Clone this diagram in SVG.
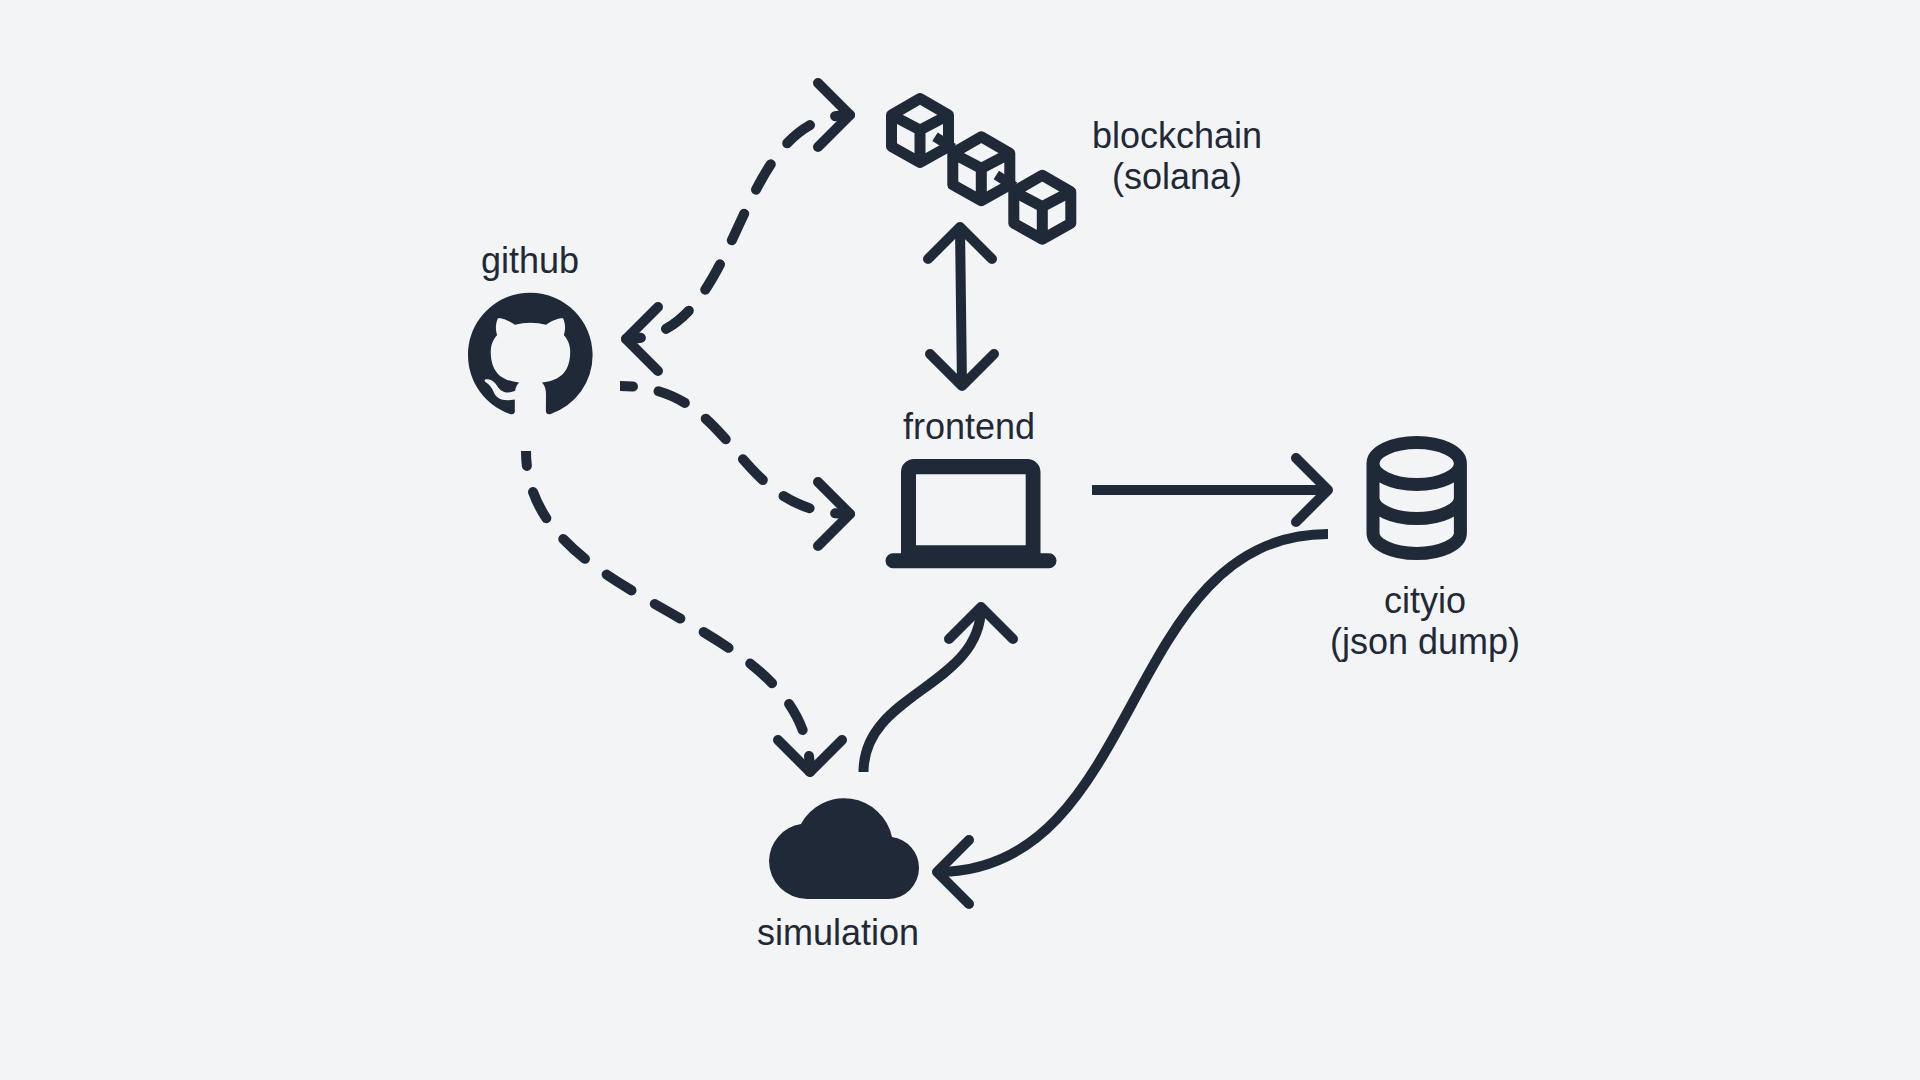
<svg xmlns="http://www.w3.org/2000/svg" width="1920" height="1080" viewBox="0 0 1920 1080">
<style>
text{font-family:"Liberation Sans",Arial,sans-serif;font-size:36px;fill:#1f2937;text-anchor:middle}
.c{fill:none;stroke:#1f2937;stroke-width:10;stroke-linecap:round;stroke-linejoin:round}
.b{fill:none;stroke:#1f2937;stroke-width:10}
.d{stroke-dasharray:29.500 27}
.i{fill:#1f2937}
.s{fill:none;stroke:#1f2937;stroke-width:11;stroke-linejoin:round}
</style>
<defs>
<g id="cube">
<path class="s" d="M920 98.500L948.500 115V146.500L920 162.500L891.500 146.500V115ZM891.500 115L920 130L948.500 115M920 130V162.500"/>
</g>
<clipPath id="clipFront"><rect x="620" y="370" width="260" height="200"/></clipPath>
<clipPath id="clipSim"><rect x="510" y="451" width="350" height="350"/></clipPath>
</defs>
<rect width="1920" height="1080" fill="#f3f4f6"/>
<g id="connectors">
<path class="c d" pathLength="339.500" stroke-dashoffset="14.500" d="M850 115C730 115 746 339 626 339"/>
<path class="c" d="M818 83L850 115L818 147M658 307L626 339L658 371"/>
<path class="c d" clip-path="url(#clipFront)" pathLength="281" stroke-dashoffset="16.500" d="M620 386C740 386 730 514 850 514"/>
<path class="c" d="M818 482L850 514L818 546"/>
<path class="c d" clip-path="url(#clipSim)" pathLength="453.500" stroke-dashoffset="14.500" d="M526 451C526 611 810 612 810 772"/>
<path class="c" d="M778 740L810 772L842 740"/>
<path class="b" d="M1092 490H1326"/>
<path class="c" d="M1296 458L1328 490L1296 522"/>
<path class="c" d="M960 227L962 386M928 259L960 227L992 259M930 354L962 386L994 354"/>
<path class="b" d="M1328 534C1120 534 1145 872 937 872"/>
<path class="c" d="M969 840L937 872L969 904"/>
<path class="b" d="M863.500 772C863.500 692 981 687 981 607"/>
<path class="c" d="M949 639L981 607L1013 639"/>
</g>
<g id="blockchain">
<use href="#cube"/>
<use href="#cube" x="61.300" y="38.300"/>
<use href="#cube" x="122.300" y="76.700"/>
<path class="b" d="M935 136.700L953.300 148.300M996.300 175L1014.600 186.600"/>
<text x="1177" y="148">blockchain</text>
<text x="1177" y="189">(solana)</text>
</g>
<g id="github">
<path class="i" fill-rule="evenodd" transform="translate(468 292.700) scale(7.790)" d="M8 0C3.58 0 0 3.58 0 8c0 3.54 2.29 6.53 5.47 7.59.4.07.55-.17.55-.38 0-.19-.01-.82-.01-1.49-2.01.37-2.53-.49-2.69-.94-.09-.23-.48-.94-.82-1.13-.28-.15-.68-.52-.01-.53.63-.01 1.08.58 1.23.82.72 1.21 1.87.87 2.33.66.07-.52.28-.87.51-1.07-1.78-.2-3.64-.89-3.64-3.95 0-.87.31-1.59.82-2.15-.08-.2-.36-1.02.08-2.12 0 0 .67-.21 2.2.82.64-.18 1.32-.27 2-.27.68 0 1.36.09 2 .27 1.53-1.04 2.2-.82 2.2-.82.44 1.1.16 1.92.08 2.12.51.56.82 1.27.82 2.15 0 3.07-1.87 3.75-3.65 3.95.29.25.54.73.54 1.48 0 1.07-.01 1.93-.01 2.2 0 .21.15.46.55.38A8.013 8.013 0 0016 8c0-4.42-3.58-8-8-8z"/>
<text x="530" y="273">github</text>
</g>
<g id="frontend">
<path class="i" fill-rule="evenodd" d="M914 459H1027A13 13 0 0 1 1040.500 472V553.300H1049A7.500 7.500 0 0 1 1049 568.300H893A7.500 7.500 0 0 1 893 553.300H901V472A13 13 0 0 1 914 459ZM916 474.300V545.300H1025.700V474.300Z"/>
<text x="969" y="439">frontend</text>
</g>
<g id="cityio">
<path class="s" style="stroke-width:13" d="M1373 463.500A43.700 21 0 0 1 1460.400 463.500A43.700 21 0 0 1 1373 463.500V533A43.700 20.500 0 0 0 1460.400 533V463.500M1373 498A43.700 20.500 0 0 0 1460.400 498"/>
<text x="1425" y="613">cityio</text>
<text x="1425" y="654">(json dump)</text>
</g>
<g id="simulation">
<path class="i" d="M807 899A38 38 0 0 1 769 861A38 38 0 0 1 801 824A49 49 0 0 1 892 837A31 31 0 0 1 919 868A31 31 0 0 1 888 899Z"/>
<text x="838" y="945">simulation</text>
</g>
</svg>
